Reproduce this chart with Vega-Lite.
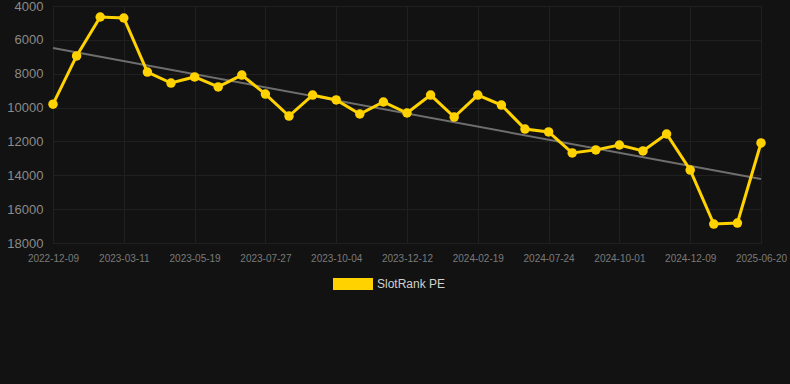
{
  "$schema": "https://vega.github.io/schema/vega-lite/v6.json",
  "width": 737,
  "height": 237,
  "autosize": {"type": "none"},
  "padding": {"left": 53, "top": 6, "right": 0, "bottom": 141},
  "background": "#121212",
  "config": {
    "view": {"stroke": null},
    "font": "Liberation Sans",
    "axis": {
      "domain": false,
      "ticks": false,
      "grid": true,
      "gridColor": "#202020",
      "gridWidth": 1,
      "title": null,
      "labelFont": "Liberation Sans"
    }
  },
  "datasets": {
    "main": [
      {"date": "2022-12-09", "rank": 9800, "series": "SlotRank PE"},
      {"date": "2023-01-08", "rank": 6950, "series": "SlotRank PE"},
      {"date": "2023-02-08", "rank": 4650, "series": "SlotRank PE"},
      {"date": "2023-03-11", "rank": 4710, "series": "SlotRank PE"},
      {"date": "2023-04-03", "rank": 7900, "series": "SlotRank PE"},
      {"date": "2023-04-26", "rank": 8550, "series": "SlotRank PE"},
      {"date": "2023-05-19", "rank": 8190, "series": "SlotRank PE"},
      {"date": "2023-06-11", "rank": 8780, "series": "SlotRank PE"},
      {"date": "2023-07-04", "rank": 8080, "series": "SlotRank PE"},
      {"date": "2023-07-27", "rank": 9200, "series": "SlotRank PE"},
      {"date": "2023-08-19", "rank": 10500, "series": "SlotRank PE"},
      {"date": "2023-09-11", "rank": 9260, "series": "SlotRank PE"},
      {"date": "2023-10-04", "rank": 9550, "series": "SlotRank PE"},
      {"date": "2023-10-27", "rank": 10380, "series": "SlotRank PE"},
      {"date": "2023-11-19", "rank": 9670, "series": "SlotRank PE"},
      {"date": "2023-12-12", "rank": 10320, "series": "SlotRank PE"},
      {"date": "2024-01-04", "rank": 9260, "series": "SlotRank PE"},
      {"date": "2024-01-27", "rank": 10560, "series": "SlotRank PE"},
      {"date": "2024-02-19", "rank": 9260, "series": "SlotRank PE"},
      {"date": "2024-04-10", "rank": 9850, "series": "SlotRank PE"},
      {"date": "2024-06-01", "rank": 11270, "series": "SlotRank PE"},
      {"date": "2024-07-24", "rank": 11440, "series": "SlotRank PE"},
      {"date": "2024-08-16", "rank": 12680, "series": "SlotRank PE"},
      {"date": "2024-09-08", "rank": 12500, "series": "SlotRank PE"},
      {"date": "2024-10-01", "rank": 12210, "series": "SlotRank PE"},
      {"date": "2024-10-24", "rank": 12560, "series": "SlotRank PE"},
      {"date": "2024-11-16", "rank": 11560, "series": "SlotRank PE"},
      {"date": "2024-12-09", "rank": 13690, "series": "SlotRank PE"},
      {"date": "2025-02-12", "rank": 16880, "series": "SlotRank PE"},
      {"date": "2025-04-17", "rank": 16820, "series": "SlotRank PE"},
      {"date": "2025-06-20", "rank": 12090, "series": "SlotRank PE"}
    ],
    "trend": [
      {"date": "2022-12-09", "rank": 6480},
      {"date": "2025-06-20", "rank": 14220}
    ]
  },
  "encoding": {
    "x": {
      "field": "date",
      "type": "ordinal",
      "sort": null,
      "scale": {
        "type": "point",
        "padding": 0,
        "range": [0, 708],
        "domain": ["2022-12-09", "2023-01-08", "2023-02-08", "2023-03-11", "2023-04-03", "2023-04-26", "2023-05-19", "2023-06-11", "2023-07-04", "2023-07-27", "2023-08-19", "2023-09-11", "2023-10-04", "2023-10-27", "2023-11-19", "2023-12-12", "2024-01-04", "2024-01-27", "2024-02-19", "2024-04-10", "2024-06-01", "2024-07-24", "2024-08-16", "2024-09-08", "2024-10-01", "2024-10-24", "2024-11-16", "2024-12-09", "2025-02-12", "2025-04-17", "2025-06-20"]
      },
      "axis": {
        "labelAngle": 0,
        "labelFontSize": 10,
        "labelColor": "#7a7a7a",
        "labelPadding": 10,
        "values": ["2022-12-09", "2023-03-11", "2023-05-19", "2023-07-27", "2023-10-04", "2023-12-12", "2024-02-19", "2024-07-24", "2024-10-01", "2024-12-09", "2025-06-20"]
      }
    },
    "y": {
      "field": "rank",
      "type": "quantitative",
      "scale": {"domain": [4000, 18000], "reverse": true, "nice": false, "zero": false},
      "axis": {
        "values": [4000, 6000, 8000, 10000, 12000, 14000, 16000, 18000],
        "format": "d",
        "labelFontSize": 13,
        "labelColor": "#8a8a8a",
        "labelPadding": 10
      }
    }
  },
  "layer": [
    {
      "data": {"name": "trend"},
      "mark": {"type": "line", "color": "#6e6e6e", "strokeWidth": 2},
      "encoding": {}
    },
    {
      "data": {"name": "main"},
      "mark": {"type": "line", "strokeWidth": 3},
      "encoding": {
        "color": {
          "field": "series",
          "type": "nominal",
          "scale": {"range": ["#FFD200"]},
          "legend": {
            "title": null,
            "orient": "none",
            "legendX": 280,
            "legendY": 258,
            "symbolType": "M-1,-0.3H1V0.3H-1Z",
            "symbolSize": 1600,
            "symbolFillColor": "#FFD200",
            "symbolStrokeWidth": 0,
            "labelColor": "#d0d0d0",
            "labelFontSize": 12,
            "labelFont": "Liberation Sans"
          }
        }
      }
    },
    {
      "data": {"name": "main"},
      "mark": {"type": "point", "filled": true, "size": 90, "opacity": 1},
      "encoding": {
        "color": {"field": "series", "type": "nominal"}
      }
    }
  ]
}
